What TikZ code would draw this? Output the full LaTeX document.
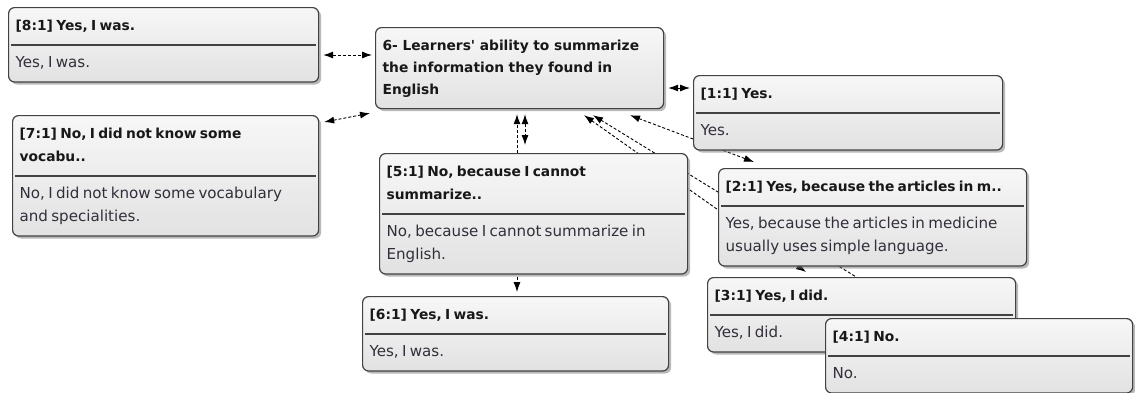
\documentclass[tikz,border=0pt]{standalone}
\usepackage{fontspec}
\setmainfont{DejaVu Sans}
\usetikzlibrary{shapes.multipart,shadows,arrows.meta}
\pgfdeclarelayer{background}
\pgfsetlayers{background,main}

\definecolor{boxline}{HTML}{424242}
\definecolor{boxtop}{HTML}{F7F7F7}
\definecolor{boxbottom}{HTML}{E2E2E2}
\definecolor{headtext}{HTML}{181818}
\definecolor{bodytext}{HTML}{332E3A}

% header and body of one quotation box
\newcommand{\qpair}[2]{\fontsize{13.8}{22}\selectfont\bfseries\color{headtext}\strut#1\strut
  \nodepart{two}\fontsize{15.1}{22}\selectfont\mdseries\color{bodytext}\strut#2\strut}

\begin{document}
\begin{tikzpicture}[x=1pt,y=-1pt,
    qbox/.style={rectangle split, rectangle split parts=2,
      rectangle split draw splits=false,
      draw=boxline, line width=1.2pt, rounded corners=6pt,
      top color=boxtop, bottom color=boxbottom,
      drop shadow={shadow xshift=2.5pt, shadow yshift=-2.5pt, fill=black!55, opacity=0.5},
      anchor=north west, align=left, inner xsep=7pt, inner ysep=7pt,
      text width=#1-14pt},
    qbox/.default=308pt,
    sepline/.style={draw=boxline, line width=1.4pt},
    link/.style={dash pattern=on 3pt off 2pt, line width=0.9pt,
      >={Latex[length=10pt,width=7pt]}}]

  \useasboundingbox (0,0) rectangle (1135,392);

  % central code
  \node[draw=boxline, line width=1.2pt, rounded corners=6pt,
    top color=boxtop, bottom color=boxbottom,
    drop shadow={shadow xshift=2.5pt, shadow yshift=-2.5pt, fill=black!55, opacity=0.5},
    anchor=north west, align=left, inner xsep=7pt, inner ysep=7.5pt,
    text width=274pt, font=\fontsize{13.8}{22}\selectfont\bfseries, text=headtext]
    (topic) at (375,27) {\strut6- Learners\textquotesingle{} ability to summarize\\
      the information they found in\\ English\strut};

  % quotations
  \node[qbox=310pt] (q8) at (8,7) {\qpair{[8:1] Yes, I was.}{Yes, I was.}};
  \node[qbox=306pt] (q7) at (12,115) {\qpair{[7:1] No, I did not know some\\ vocabu..}{No, I did not know some vocabulary\\ and specialities.}};
  \node[qbox=309pt] (q1) at (693,75) {\qpair{[1:1] Yes.}{Yes.}};
  \node[qbox] (q5) at (379,153) {\qpair{[5:1] No, because I cannot\\ summarize..}{No, because I cannot summarize in\\ English.}};
  \node[qbox] (q2) at (718,168) {\qpair{[2:1] Yes, because the articles in m..}{Yes, because the articles in medicine\\ usually uses simple language.}};
  \node[qbox=306pt] (q6) at (362,296) {\qpair{[6:1] Yes, I was.}{Yes, I was.}};
  \node[qbox] (q3) at (707,277) {\qpair{[3:1] Yes, I did.}{Yes, I did.}};

  % separators
  \foreach \q in {q8,q7,q1,q5,q2,q6,q3}
    \draw[sepline] ([xshift=3pt]\q.text split west) -- ([xshift=-3pt]\q.text split east);

  \node[qbox=307pt] (q4) at (825,318) {\qpair{[4:1] No.}{No.}};
  \draw[sepline] ([xshift=3pt]q4.text split west) -- ([xshift=-3pt]q4.text split east);

  % links
  \begin{pgfonlayer}{background}
    \draw[link,<->] ([xshift=4pt,yshift=-48pt]q8.north east) -- ([xshift=-3pt,yshift=-28pt]topic.north west);
    \draw[link,<->] ([xshift=5pt,yshift=-7pt]q7.north east) -- ([xshift=-5pt,yshift=-4pt]topic.south west);
    \draw[link,<->] ([xshift=4pt,yshift=-61pt]topic.north east) -- ([xshift=-3pt,yshift=-13pt]q1.north west);
    \draw[link,->] ([xshift=138pt]q5.north west) -- ([xshift=142pt,yshift=-5pt]topic.south west);
    \draw[link,<->] ([xshift=150pt,yshift=-5pt]topic.south west) -- ([xshift=146pt,yshift=8pt]q5.north west);
    \draw[link,<->] ([xshift=255pt,yshift=-6pt]topic.south west) -- ([xshift=36pt,yshift=6pt]q2.north west);
    \draw[link,<->] ([xshift=209pt,yshift=-6pt]topic.south west) -- ([xshift=99pt,yshift=5pt]q3.north west);
    \draw[link,->] ([xshift=98pt]q4.north west) -- ([xshift=218pt,yshift=-6pt]topic.south west);
    \draw[link,->] ([xshift=138pt,yshift=-2pt]q5.south west) -- ([xshift=155pt,yshift=4pt]q6.north west);
  \end{pgfonlayer}
\end{tikzpicture}
\end{document}
